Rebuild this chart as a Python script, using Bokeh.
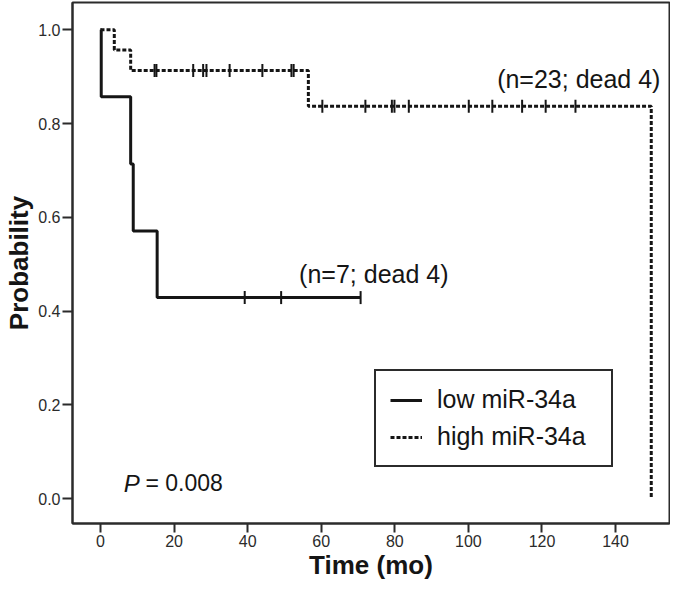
import math
from bokeh.plotting import figure
from bokeh.models import (Range1d, FixedTicker, Label, Legend, LegendItem,
                          NumeralTickFormatter)
from bokeh.embed import file_html
from bokeh.resources import INLINE

# ---- data ----
low_time = [0.0, 0.2, 8.2, 8.9, 15.4, 70.7]
low_surv = [1.0, 0.857, 0.714, 0.571, 0.429, 0.429]
low_cens_time = [39.2, 49.1, 70.7]
low_cens_surv = [0.429, 0.429, 0.429]

high_time = [0.0, 3.75, 8.2, 56.5, 149.7]
high_surv = [1.0, 0.957, 0.913, 0.837, 0.0]
high_cens_time = [14.7, 15.2, 25.2, 27.9, 28.8, 35.1, 44.0, 51.9, 52.5,
                  60.3, 72.0, 79.2, 79.9, 83.8, 100.1, 106.5, 114.6, 121.0, 129.1]
high_cens_surv = [0.913] * 9 + [0.837] * 10

x_ticks = [0, 20, 40, 60, 80, 100, 120, 140]
y_ticks = [0.0, 0.2, 0.4, 0.6, 0.8, 1.0]

FONT = "Liberation Sans"
INK = "#151515"
AX = "#2b2b2b"

p = figure(width=670, height=584, output_backend="svg", toolbar_location=None,
           x_range=Range1d(-7.61, 154.66), y_range=Range1d(-0.0527, 1.0582),
           min_border_left=72, min_border_right=1, min_border_top=2,
           min_border_bottom=61)
p.grid.visible = False
p.background_fill_color = "white"
p.border_fill_color = "white"
p.outline_line_color = AX
p.outline_line_width = 2

for ax in (p.xaxis[0], p.yaxis[0]):
    ax.axis_line_color = AX
    ax.axis_line_width = 2
    ax.major_tick_line_color = AX
    ax.major_tick_line_width = 2
    ax.major_tick_in = 0
    ax.minor_tick_line_color = None
    ax.major_label_text_font = FONT
    ax.major_label_text_font_size = "16px"
    ax.major_label_text_color = AX
    ax.axis_label_text_font = FONT
    ax.axis_label_text_font_style = "bold"
    ax.axis_label_text_font_size = "26px"
    ax.axis_label_text_color = INK

p.xaxis.ticker = FixedTicker(ticks=x_ticks)
p.yaxis.ticker = FixedTicker(ticks=y_ticks)
p.yaxis.formatter = NumeralTickFormatter(format="0.0")
p.xaxis.axis_label = "Time (mo)"
p.yaxis.axis_label = "Probability"
p.xaxis.major_tick_out = 9
p.yaxis.major_tick_out = 10
p.xaxis.major_label_standoff = 2
p.yaxis.major_label_standoff = 2
p.xaxis.axis_label_standoff = 0
p.yaxis.axis_label_standoff = 1

low_r = p.step(low_time, low_surv, mode="after", line_color=INK, line_width=3)
high_r = p.step(high_time, high_surv, mode="after", line_color=INK,
                line_width=3, line_dash="4 2")

p.scatter(low_cens_time, low_cens_surv, marker="dash", size=13,
          angle=math.pi / 2, line_color=INK, line_width=2)
p.scatter(high_cens_time, high_cens_surv, marker="dash", size=13,
          angle=math.pi / 2, line_color=INK, line_width=2)

legend = Legend(items=[LegendItem(label="low miR-34a", renderers=[low_r]),
                       LegendItem(label="high miR-34a", renderers=[high_r])],
                location=(302, 56), orientation="vertical",
                label_text_font=FONT, label_text_font_size="25px",
                label_text_color=INK, glyph_width=32, label_standoff=15,
                padding=14, spacing=8, label_width=160,
                border_line_color=AX, border_line_width=2,
                border_line_alpha=1.0,
                background_fill_color="white", background_fill_alpha=1.0)
p.add_layout(legend, "center")

p.add_layout(Label(x=152.2, y=0.896, text="(n=23; dead 4)", text_align="right",
                   text_baseline="middle", text_font=FONT,
                   text_font_size="25px", text_color=INK))
p.add_layout(Label(x=94.6, y=0.480, text="(n=7; dead 4)", text_align="right",
                   text_baseline="middle", text_font=FONT,
                   text_font_size="25px", text_color=INK))
p.add_layout(Label(x=6.3, y=0.033, text="P", text_align="left",
                   text_baseline="middle", text_font=FONT,
                   text_font_style="italic", text_font_size="24px",
                   text_color=INK))
p.add_layout(Label(x=12.2, y=0.033, text="= 0.008", text_align="left",
                   text_baseline="middle", text_font=FONT,
                   text_font_size="23px", text_color=INK))

open("out.html", "w").write(file_html(p, INLINE))
